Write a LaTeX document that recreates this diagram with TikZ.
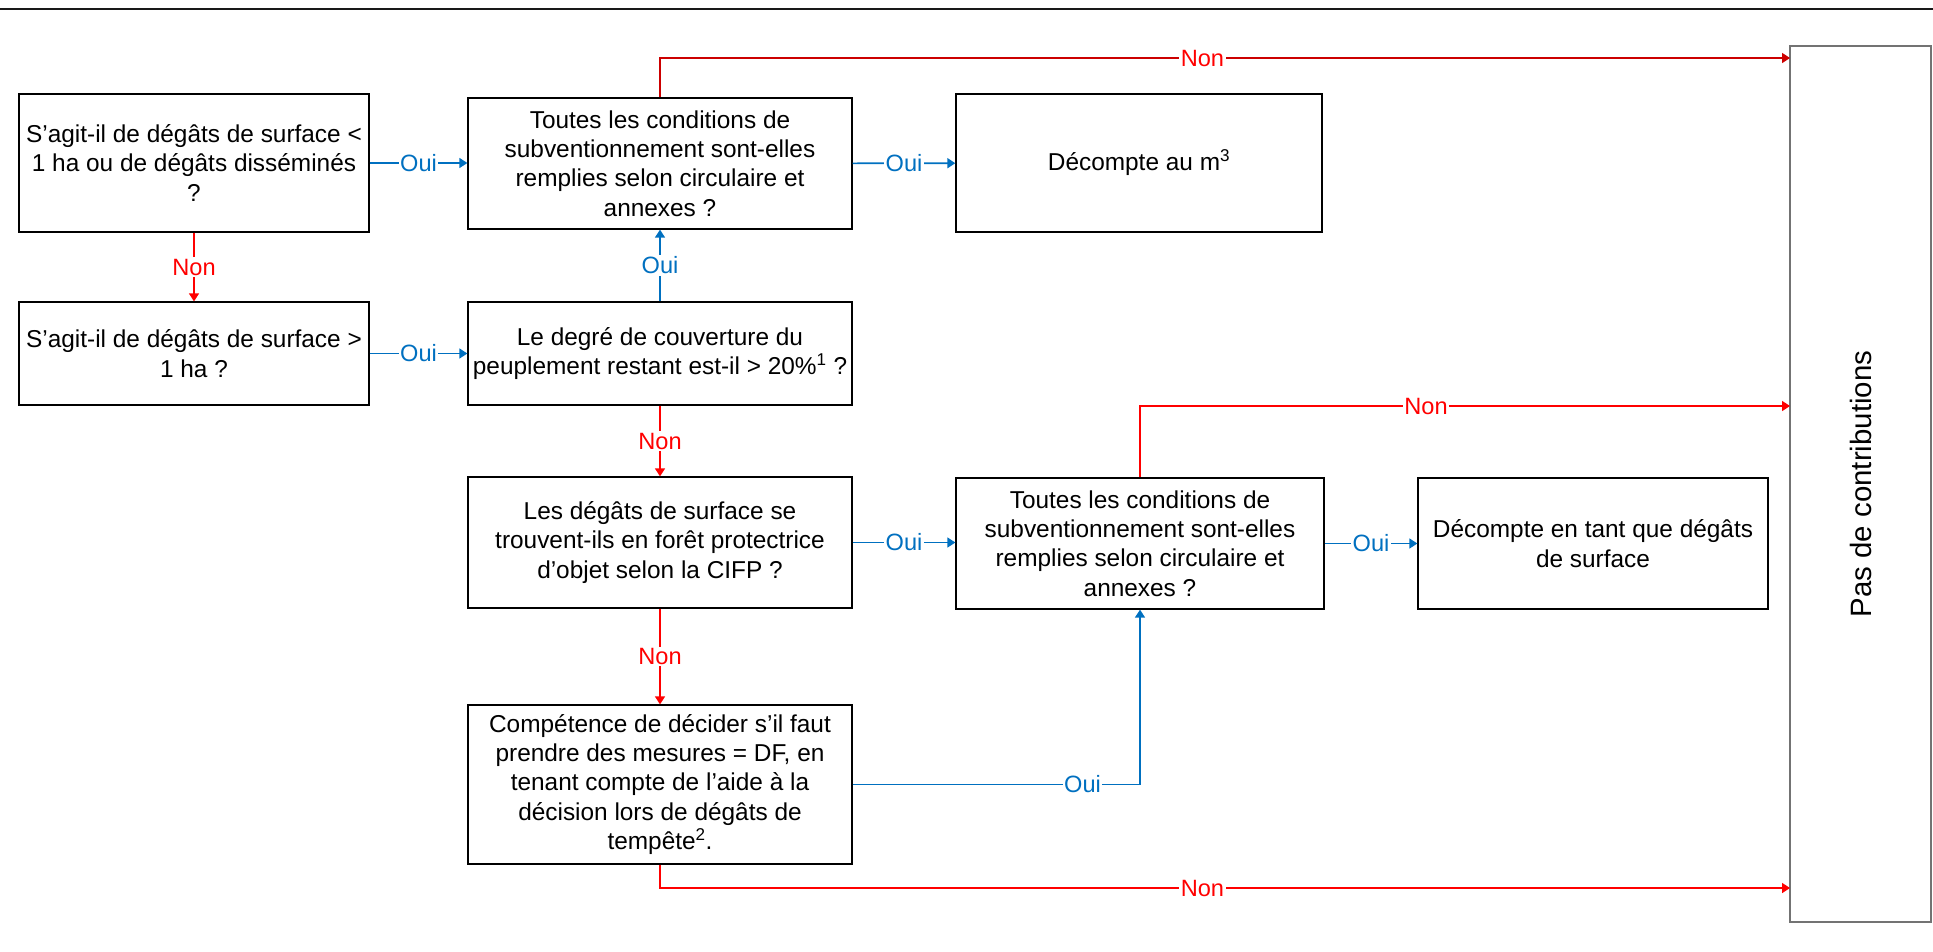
\documentclass[tikz,border=0pt]{standalone}
\usepackage{fontspec}
\setmainfont{Liberation Sans}
\usetikzlibrary{arrows.meta}

\definecolor{ouiblue}{HTML}{0070C0}
\definecolor{nonred}{HTML}{FF0000}

\begin{document}
\begin{tikzpicture}[x=1pt, y=-1pt,
    box/.style={draw=black, line width=1.3pt, align=center, inner sep=3pt,
      font=\fontsize{24.4}{29.3}\selectfont},
    lbl/.style={fill=white, inner sep=1.5pt, font=\fontsize{23.6}{28}\selectfont},
    oui/.style={color=ouiblue, line width=1.6pt, -{Triangle[length=8pt,width=10pt]}},
    non/.style={color=nonred, line width=1.6pt, -{Triangle[length=8pt,width=10pt]}}]
  \useasboundingbox (0,0) rectangle (1933,951);
  \draw[line width=2.3pt, black!90] (0,9) -- (1933,9);

  \node[box, minimum width=350pt, minimum height=138pt] (qpetit) at (194,163)
    {S’agit-il de dégâts de surface <\\1 ha ou de dégâts disséminés\\?};
  \node[box, minimum width=350pt, minimum height=103pt] (qgrand) at (194,353.5)
    {S’agit-il de dégâts de surface >\\1 ha ?};
  \node[box, minimum width=384pt, minimum height=131pt] (condhaut) at (660,163.5)
    {Toutes les conditions de\\subventionnement sont-elles\\remplies selon circulaire et\\annexes ?};
  \node[box, minimum width=384pt, minimum height=103pt] (couvert) at (660,353.5)
    {Le degré de couverture du\\peuplement restant est-il > 20\%\textsuperscript{1} ?};
  \node[box, minimum width=366pt, minimum height=138pt] (decm) at (1139,163)
    {Décompte au m\textsuperscript{3}};
  \node[box, minimum width=384pt, minimum height=131pt] (protect) at (660,542.5)
    {Les dégâts de surface se\\trouvent-ils en forêt protectrice\\d’objet selon la CIFP ?};
  \node[box, minimum width=368pt, minimum height=131pt] (condbas) at (1140,543.5)
    {Toutes les conditions de\\subventionnement sont-elles\\remplies selon circulaire et\\annexes ?};
  \node[box, minimum width=350pt, minimum height=131pt] (decsurf) at (1593,543.5)
    {Décompte en tant que dégâts\\de surface};
  \node[box, minimum width=384pt, minimum height=159pt] (compet) at (660,784.5)
    {Compétence de décider s’il faut\\prendre des mesures = DF, en\\tenant compte de l’aide à la\\décision lors de dégâts de\\tempête\textsuperscript{2}.};
  \node[box, draw=black!55, minimum width=141pt, minimum height=876pt,
    font=\fontsize{29.4}{34}\selectfont] (pas) at (1860.5,484)
    {\rotatebox{90}{Pas de contributions}};

  \coordinate (pin1) at (1790,58);
  \coordinate (pin2) at (1790,406);
  \coordinate (pin3) at (1790,888);

  \draw[oui] (qpetit.east) -- node[lbl] {Oui} (qpetit.east -| condhaut.west);
  \draw[non] (qpetit) -- node[lbl] {Non} (qgrand);
  \draw[oui] (qgrand.east) -- node[lbl] {Oui} (qgrand.east -| couvert.west);
  \draw[oui] (couvert) -- node[lbl] {Oui} (condhaut);
  \draw[oui] (condhaut) -- node[lbl] {Oui} (decm);
  \draw[non, draw=nonred!80!black] (condhaut.north) |- node[lbl, pos=0.74] {Non} (pin1);
  \draw[non] (couvert) -- node[lbl] {Non} (protect);
  \draw[oui] (protect.east) -- node[lbl] {Oui} (protect.east -| condbas.west);
  \draw[oui] (condbas) -- node[lbl] {Oui} (decsurf);
  \draw[non] (condbas.north) |- node[lbl, pos=0.72] {Non} (pin2);
  \draw[non] (protect) -- node[lbl] {Non} (compet);
  \draw[oui] (compet.east) -| node[lbl, pos=0.4] {Oui} (condbas.south);
  \draw[non] (compet.south) |- node[lbl, pos=0.74] {Non} (pin3);
\end{tikzpicture}
\end{document}
